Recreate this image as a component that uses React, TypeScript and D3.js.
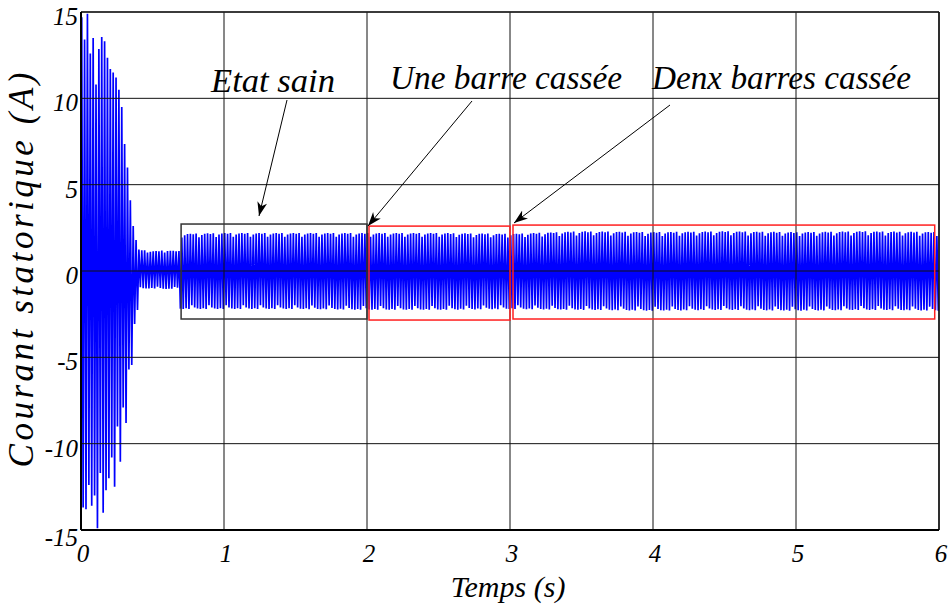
import React from "react";
import * as d3 from "d3";

const W = 952;
const H = 608;
const PLOT = { left: 81, right: 939, top: 12, bottom: 530 };

const xTickValues = [0, 1, 2, 3, 4, 5, 6];
const xTickLabels = ["0", "1", "2", "3", "4", "5", "6"];
const yTickValues = [-15, -10, -5, 0, 5, 10, 15];
const yTickLabels = ["-15", "-10", "-5", "0", "5", "10", "15"];

// start-up transient: one positive and one negative peak per 50 Hz cycle
const startupPos = [14.7, 13.4, 14.9, 12.6, 13.5, 10.8, 12.85, 13.55, 13.3, 12.35, 11.7, 11.5, 11.2, 10.5, 9.5, 7.35, 6.0, 4.1, 2.6, 1.8];
const startupNeg = [-13.7, -13.8, -12.4, -13.6, -13.0, -14.9, -11.7, -14.0, -12.7, -12.0, -10.8, -12.5, -9.0, -11.05, -7.9, -8.8, -5.7, -5.45, -3.07, -2.26];

// steady-state envelope keyframes (time s, upper / lower peak A)
const envTimes = [0.40, 0.50, 0.60, 0.69, 0.695, 1.0, 1.5, 2.0, 2.5, 3.0, 3.5, 4.0, 4.5, 5.0, 5.5, 6.0];
const envTop = [1.25, 1.15, 1.2, 1.15, 2.15, 2.2, 2.2, 2.2, 2.2, 2.15, 2.3, 2.25, 2.3, 2.25, 2.3, 2.25];
const envBot = [-1.05, -1.0, -1.05, -1.0, -2.2, -2.2, -2.2, -2.25, -2.25, -2.2, -2.25, -2.3, -2.25, -2.3, -2.25, -2.3];
// visible peak-height variation (sampling) pattern
const ripple = [1.0, 0.92, 0.98, 0.87, 1.0, 0.95, 0.9, 1.0, 0.96, 0.88, 0.99, 0.93];

const PERIOD = 0.02;

// annotation boxes: [t0, t1, low, high]
const boxT0 = [0.70, 2.014, 3.021];
const boxT1 = [2.0, 3.0, 5.97];
const boxLo = [-2.78, -2.84, -2.78];
const boxHi = [2.72, 2.6, 2.66];
const boxColors = ["#333333", "#ff2020", "#ff2020"];

const labels = ["Etat sain", "Une barre cassée", "Denx barres cassée"];

function buildSignal(): [number, number][] {
  const pts: [number, number][] = [[0, 0]];
  startupPos.forEach((p, i) => {
    pts.push([0.005 + i * PERIOD, p]);
    pts.push([0.015 + i * PERIOD, startupNeg[i]]);
  });
  const topS = d3.scaleLinear().domain(envTimes).range(envTop).clamp(true);
  const botS = d3.scaleLinear().domain(envTimes).range(envBot).clamp(true);
  const start = 0.005 + startupPos.length * PERIOD;
  const n = Math.floor((6.0 - start) / (PERIOD / 2));
  for (let k = 0; k <= n; k++) {
    const t = start + (k * PERIOD) / 2;
    const r = ripple[k % ripple.length];
    const v = k % 2 === 0 ? topS(t) * r : botS(t) * ripple[(k + 5) % ripple.length];
    pts.push([t, v]);
  }
  return pts;
}

export default function App() {
  const x = d3.scaleLinear().domain([0, 6]).range([PLOT.left, PLOT.right]);
  const y = d3.scaleLinear().domain([-15, 15]).range([PLOT.bottom, PLOT.top]);
  const signal = buildSignal();
  const line = d3
    .line<[number, number]>()
    .x((d) => x(d[0]))
    .y((d) => y(d[1]));

  const font = "'Liberation Serif', 'Times New Roman', serif";

  const arrows = [
    { x1: 287, y1: 100, x2: 259, y2: 216 },
    { x1: 472, y1: 101, x2: 368, y2: 226 },
    { x1: 670, y1: 105, x2: 514, y2: 223 },
  ];
  const textPos = [
    { x: 211, y: 92, len: 124 },
    { x: 390, y: 89, len: 232 },
    { x: 652, y: 89, len: 259 },
  ];

  return (
    <svg
      width={W}
      height={H}
      style={{ position: "absolute", left: 0, top: 0, background: "#fff" }}
    >
      <defs>
        <clipPath id="plotclip">
          <rect x={PLOT.left} y={PLOT.top} width={PLOT.right - PLOT.left} height={PLOT.bottom - PLOT.top} />
        </clipPath>
        <marker
          id="ah"
          markerUnits="userSpaceOnUse"
          markerWidth={16}
          markerHeight={12}
          refX={14}
          refY={5}
          orient="auto"
        >
          <path d="M0,0 L14,5 L0,10 L4,5 Z" fill="#000" />
        </marker>
      </defs>
      <rect x={0} y={0} width={W} height={H} fill="#fff" />

      <g clipPath="url(#plotclip)">
        <path d={line(signal) || ""} fill="none" stroke="#0000ff" strokeWidth={1.7} strokeLinejoin="miter" />
      </g>

      {/* grid */}
      <g>
        {xTickValues.map((v) => (
          <line key={"gx" + v} x1={x(v)} x2={x(v)} y1={PLOT.top} y2={PLOT.bottom} stroke="#111" strokeWidth={1} />
        ))}
        {yTickValues.map((v) => (
          <line key={"gy" + v} x1={PLOT.left} x2={PLOT.right} y1={y(v)} y2={y(v)} stroke="#111" strokeWidth={1} />
        ))}
      </g>

      {/* frame */}
      <line x1={PLOT.left} x2={PLOT.right} y1={PLOT.top} y2={PLOT.top} stroke="#222" strokeWidth={1.5} />
      <line x1={PLOT.right} x2={PLOT.right} y1={PLOT.top} y2={PLOT.bottom} stroke="#111" strokeWidth={1.5} />
      <line x1={PLOT.left} x2={PLOT.left} y1={PLOT.top} y2={PLOT.bottom} stroke="#000" strokeWidth={2} />
      <line x1={PLOT.left} x2={PLOT.right} y1={PLOT.bottom} y2={PLOT.bottom} stroke="#000" strokeWidth={2} />

      {/* boxes */}
      {boxT0.map((t0, i) => (
        <rect
          key={"box" + i}
          x={x(t0)}
          y={y(boxHi[i])}
          width={x(boxT1[i]) - x(t0)}
          height={y(boxLo[i]) - y(boxHi[i])}
          fill="none"
          stroke={boxColors[i]}
          strokeWidth={1.5}
        />
      ))}

      {/* arrows */}
      {arrows.map((a, i) => (
        <line key={"ar" + i} x1={a.x1} y1={a.y1} x2={a.x2} y2={a.y2} stroke="#000" strokeWidth={1} markerEnd="url(#ah)" />
      ))}

      {/* annotation labels */}
      {labels.map((s, i) => (
        <text
          key={"lb" + i}
          x={textPos[i].x}
          y={textPos[i].y}
          fontFamily={font}
          fontStyle="italic"
          fontSize={34}
          textLength={textPos[i].len}
          lengthAdjust="spacingAndGlyphs"
          fill="#000"
        >
          {s}
        </text>
      ))}

      {/* tick labels */}
      {yTickValues.map((v, i) => (
        <text
          key={"yt" + v}
          x={78}
          y={y(v) + (v === -15 ? 16 : 13)}
          textAnchor="end"
          fontFamily={font}
          fontStyle="italic"
          fontSize={25}
          fill="#000"
        >
          {yTickLabels[i]}
        </text>
      ))}
      {xTickValues.map((v, i) => (
        <text
          key={"xt" + v}
          x={x(v) + 2}
          y={562}
          textAnchor="middle"
          fontFamily={font}
          fontStyle="italic"
          fontSize={25}
          fill="#000"
        >
          {xTickLabels[i]}
        </text>
      ))}

      {/* axis titles */}
      <text
        x={508}
        y={597}
        textAnchor="middle"
        fontFamily={font}
        fontStyle="italic"
        fontSize={30}
        fill="#000"
      >
        Temps (s)
      </text>
      <text
        transform="translate(33,270) rotate(-90)"
        textAnchor="middle"
        fontFamily={font}
        fontStyle="italic"
        fontSize={35}
        textLength={395}
        lengthAdjust="spacing"
        fill="#000"
      >
        Courant statorique (A)
      </text>
    </svg>
  );
}
